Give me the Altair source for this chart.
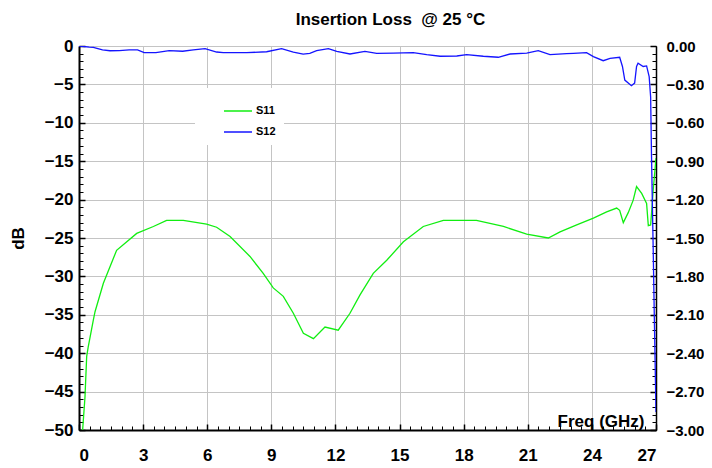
import altair as alt
import pandas as pd

# ---- data ----
s11_freq = [0.17, 0.28, 0.36, 0.43, 0.67, 0.75, 1.14, 1.76, 2.70, 3.48, 4.10, 4.88, 5.97, 6.44,
            7.07, 8.0, 8.62, 9.09, 9.56, 10.03, 10.5, 10.97, 11.51, 12.13, 12.68, 13.15, 13.77,
            14.4, 15.18, 16.11, 17.05, 18.6, 19.86, 20.95, 21.96, 22.51, 23.29, 24.07, 24.69,
            25.16, 25.3, 25.47, 25.7, 25.93, 26.09, 26.33, 26.56, 26.64, 26.75, 26.87, 27.0]
s11_db = [-50.0, -45.7, -40.4, -39.2, -35.7, -34.6, -30.9, -26.6, -24.4, -23.5, -22.7, -22.7,
          -23.2, -23.6, -24.8, -27.4, -29.6, -31.5, -32.6, -34.8, -37.4, -38.1, -36.6, -37.0,
          -34.8, -32.4, -29.6, -27.9, -25.5, -23.5, -22.7, -22.7, -23.5, -24.5, -25.0, -24.2,
          -23.3, -22.4, -21.6, -21.1, -21.4, -23.0, -21.7, -20.1, -18.3, -19.2, -20.5, -23.4,
          -23.3, -18.75, -14.6]

s12_freq = [0.0, 0.48, 0.67, 1.1, 1.45, 1.89, 2.35, 2.74, 3.05, 3.6, 4.22, 4.85, 5.35, 5.9,
            6.44, 6.75, 7.07, 7.85, 8.78, 9.48, 10.03, 10.49, 10.8, 11.12, 11.67, 12.06, 12.68,
            13.38, 13.93, 14.71, 15.64, 16.27, 16.9, 17.68, 18.14, 18.92, 19.62, 20.17, 20.95,
            21.49, 22.04, 22.82, 23.13, 23.75, 24.07, 24.53, 24.85, 25.3, 25.43, 25.54, 25.85,
            26.0, 26.09, 26.16, 26.4, 26.56, 26.68, 26.75, 26.79, 26.87, 26.93, 27.0]
s12_db = [0.0, -0.008, -0.01, -0.031, -0.037, -0.036, -0.031, -0.031, -0.052, -0.052, -0.036,
          -0.041, -0.031, -0.021, -0.047, -0.052, -0.052, -0.052, -0.045, -0.02, -0.047, -0.063,
          -0.057, -0.036, -0.021, -0.042, -0.0625, -0.042, -0.057, -0.055, -0.052, -0.068,
          -0.08, -0.078, -0.068, -0.08, -0.088, -0.0625, -0.055, -0.036, -0.068, -0.06, -0.057,
          -0.052, -0.083, -0.115, -0.096, -0.088, -0.16, -0.266, -0.31, -0.29, -0.16, -0.135,
          -0.16, -0.156, -0.24, -0.40, -0.86, -1.6, -2.2, -2.86]

series_names = ["S11", "S12"]
series_colors = ["#11ee11", "#1414ff"]

x_major = [0, 3, 6, 9, 12, 15, 18, 21, 24, 27]
x_minor = [i * 0.5 for i in range(55)]
left_major = [0, -5, -10, -15, -20, -25, -30, -35, -40, -45, -50]
left_minor = list(range(-50, 1))
right_major = [0.0, -0.3, -0.6, -0.9, -1.2, -1.5, -1.8, -2.1, -2.4, -2.7, -3.0]
right_minor = [round(-3 + 0.06 * i, 2) for i in range(51)]

green = pd.DataFrame({"freq": s11_freq, "val": s11_db, "series": series_names[0]})
blue = pd.DataFrame({"freq": s12_freq, "val": s12_db, "series": series_names[1]})

FONT = "Liberation Sans"
FS = 17
W, H = 577, 384
GRID = "#c4c4c4"

xscale = alt.Scale(domain=[0, 27], nice=False, zero=False)
lscale = alt.Scale(domain=[-50, 0], nice=False)
rscale = alt.Scale(domain=[-3, 0], nice=False)

color = alt.Color(
    "series:N",
    scale=alt.Scale(domain=series_names, range=series_colors),
    legend=alt.Legend(
        title=None, orient="none", legendX=116, legendY=42,
        fillColor="white", padding=8, symbolType="stroke", symbolSize=784,
        symbolStrokeWidth=1.5, symbolOffset=20, labelOffset=3, rowPadding=1,
        labelFont=FONT, labelFontSize=11, labelFontWeight="bold", labelColor="black",
    ),
)


def tick_axis(orient, values, size, width):
    return alt.Axis(orient=orient, values=values, labels=False, domain=False, grid=False,
                    ticks=True, tickSize=size, tickWidth=width, tickColor="black",
                    offset=-size, title=None)


x_main = alt.Axis(orient="bottom", values=x_major, format="d", grid=True, gridColor=GRID,
                  ticks=False, domain=True, domainColor="black", domainWidth=2,
                  labelFont=FONT, labelFontSize=FS, labelFontWeight="bold", labelColor="black",
                  labelPadding=17, title="Freq (GHz)", titleFont=FONT, titleFontSize=FS,
                  titleFontWeight="bold", titleColor="black", titleX=565, titleY=-4,
                  titleAlign="right", titleBaseline="alphabetic")
y_left = alt.Axis(orient="left", values=left_major, format="d", grid=True, gridColor=GRID,
                  ticks=False, domain=True, domainColor="black", domainWidth=2,
                  labelFont=FONT, labelFontSize=FS, labelFontWeight="bold", labelColor="black",
                  labelPadding=6, title="dB", titleFont=FONT, titleFontSize=FS,
                  titleFontWeight="bold", titleColor="black", titleX=-61, titleY=192,
                  titleBaseline="middle", titleAngle=270)
y_right = alt.Axis(orient="right", values=right_major, format=".2f", grid=False,
                   ticks=False, domain=True, domainColor="black", domainWidth=1.5,
                   labelFont=FONT, labelFontSize=15, labelFontWeight="bold", labelColor="black",
                   labelPadding=10, title=None)

g1 = alt.Chart(green).mark_line(strokeWidth=1.3, clip=True).encode(
    x=alt.X("freq:Q", scale=xscale, axis=x_main),
    y=alt.Y("val:Q", scale=lscale, axis=y_left),
    color=color,
)
g2 = alt.Chart(green).mark_line(strokeOpacity=0).encode(
    x=alt.X("freq:Q", scale=xscale, axis=tick_axis("bottom", x_minor, 4, 1)),
    y=alt.Y("val:Q", scale=lscale, axis=tick_axis("left", left_minor, 4, 1)),
)
g3 = alt.Chart(green).mark_line(strokeOpacity=0).encode(
    x=alt.X("freq:Q", scale=xscale, axis=tick_axis("bottom", x_major, 6, 1.5)),
    y=alt.Y("val:Q", scale=lscale, axis=tick_axis("left", left_major, 6, 1.5)),
)
left_group = alt.layer(g1, g2, g3).resolve_axis(x="independent", y="independent")

b1 = alt.Chart(blue).mark_line(strokeWidth=1.3, clip=True).encode(
    x=alt.X("freq:Q", scale=xscale, axis=None),
    y=alt.Y("val:Q", scale=rscale, axis=y_right),
    color=color,
)
b2 = alt.Chart(blue).mark_line(strokeOpacity=0).encode(
    x=alt.X("freq:Q", scale=xscale, axis=None),
    y=alt.Y("val:Q", scale=rscale, axis=tick_axis("right", right_minor, 4, 1)),
)
b3 = alt.Chart(blue).mark_line(strokeOpacity=0).encode(
    x=alt.X("freq:Q", scale=xscale, axis=None),
    y=alt.Y("val:Q", scale=rscale, axis=tick_axis("right", right_major, 6, 1.5)),
)
right_group = alt.layer(b1, b2, b3).resolve_axis(y="independent")

chart = (
    alt.layer(left_group, right_group)
    .resolve_scale(y="independent")
    .resolve_axis(x="independent", y="independent")
    .properties(
        width=W, height=H,
        autosize=alt.AutoSizeParams(type="none"),
        padding={"left": 71, "top": 38, "right": 48, "bottom": 38},
        background="white",
        title=alt.TitleParams("Insertion Loss \u00a0@ 25 \u00b0C", font=FONT, fontSize=FS,
                              fontWeight="bold", color="black", anchor="middle",
                              frame="group", offset=-5, dx=23, baseline="alphabetic"),
    )
    .configure_view(stroke="#444444", strokeWidth=1)
)

chart.save("out.html", embed_options={"renderer": "svg", "actions": False})
